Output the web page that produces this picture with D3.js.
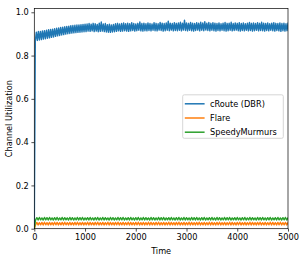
<!DOCTYPE html>
<html><head><meta charset="utf-8">
<script src="https://cdn.jsdelivr.net/npm/d3@7"></script>
<style>body{margin:0;background:#fff}svg{display:block}text{font-family:"DejaVu Sans",sans-serif;}</style>
</head><body>
<script>
const seriesNames = ["cRoute (DBR)", "Flare", "SpeedyMurmurs"];
const seriesColors = ["#1f77b4", "#ff7f0e", "#2ca02c"];
const xTicks = [0, 1000, 2000, 3000, 4000, 5000];
const yTicks = [0.0, 0.2, 0.4, 0.6, 0.8, 1.0];
const xLabel = "Time";
const yLabel = "Channel Utilization";

// cRoute sampled every 20 time units (0..5000)
const crouteStep = 20;
const crouteValues = [0,
0.868,0.908,0.870,0.911,0.872,0.912,0.874,0.914,0.876,0.915,
0.878,0.917,0.880,0.919,0.882,0.921,0.884,0.922,0.886,0.924,
0.889,0.926,0.891,0.928,0.893,0.930,0.895,0.931,0.897,0.933,
0.899,0.935,0.901,0.936,0.902,0.938,0.904,0.939,0.905,0.940,
0.906,0.941,0.907,0.942,0.908,0.943,0.909,0.944,0.910,0.945,
0.911,0.946,0.913,0.948,0.912,0.945,0.914,0.949,0.911,0.947,
0.913,0.944,0.910,0.950,0.912,0.955,0.913,0.946,0.911,0.948,
0.909,0.943,0.908,0.945,0.907,0.942,0.909,0.944,0.910,0.947,
0.912,0.949,0.914,0.946,0.912,0.948,0.913,0.951,0.915,0.947,
0.913,0.950,0.912,0.947,0.914,0.952,0.916,0.948,0.913,0.946,
0.915,0.949,0.917,0.955,0.914,0.948,0.913,0.950,0.915,0.947,
0.914,0.951,0.916,0.948,0.914,0.946,0.917,0.952,0.915,0.949,
0.914,0.947,0.918,0.953,0.916,0.950,0.913,0.948,0.915,0.951,
0.917,0.959,0.915,0.950,0.918,0.948,0.914,0.952,0.916,0.949,
0.915,0.951,0.917,0.954,0.914,0.950,0.918,0.964,0.916,0.951,
0.914,0.949,0.917,0.953,0.915,0.950,0.913,0.948,0.916,0.952,
0.918,0.950,0.914,0.954,0.917,0.951,0.915,0.957,0.918,0.950,
0.916,0.953,0.914,0.949,0.917,0.952,0.915,0.950,0.913,0.948,
0.916,0.951,0.914,0.947,0.917,0.950,0.915,0.953,0.913,0.949,
0.915,0.950,0.917,0.954,0.914,0.948,0.916,0.951,0.918,0.949,
0.915,0.952,0.913,0.948,0.916,0.951,0.914,0.947,0.917,0.950,
0.914,0.953,0.916,0.949,0.913,0.951,0.915,0.948,0.917,0.952,
0.914,0.949,0.916,0.954,0.915,0.950,0.913,0.948,0.916,0.951,
0.914,0.947,0.917,0.950,0.915,0.952,0.913,0.949,0.916,0.948,
0.914,0.951,0.912,0.948,0.915,0.950,0.913,0.947,0.915,0.949];

// Flare and SpeedyMurmurs sampled every 25 time units (0..5000)
const lowStep = 25;
const flareValues = [0,
0.018,0.029,0.017,0.028,0.018,0.029,0.017,0.030,0.018,0.028,
0.017,0.029,0.018,0.028,0.017,0.030,0.018,0.029,0.017,0.028,
0.018,0.029,0.017,0.030,0.018,0.028,0.017,0.029,0.018,0.028,
0.017,0.029,0.018,0.030,0.017,0.028,0.018,0.029,0.017,0.028,
0.018,0.030,0.017,0.029,0.018,0.028,0.017,0.029,0.018,0.030,
0.017,0.028,0.018,0.029,0.017,0.028,0.018,0.030,0.017,0.029,
0.018,0.028,0.017,0.029,0.018,0.030,0.017,0.028,0.018,0.029,
0.017,0.028,0.018,0.030,0.017,0.029,0.018,0.028,0.017,0.029,
0.018,0.030,0.017,0.028,0.018,0.029,0.017,0.028,0.018,0.030,
0.017,0.029,0.018,0.028,0.017,0.029,0.018,0.030,0.017,0.028,
0.018,0.029,0.017,0.028,0.018,0.030,0.017,0.029,0.018,0.028,
0.017,0.029,0.018,0.030,0.017,0.028,0.018,0.029,0.017,0.028,
0.018,0.030,0.017,0.029,0.018,0.028,0.017,0.029,0.018,0.030,
0.017,0.028,0.018,0.029,0.017,0.028,0.018,0.030,0.017,0.029,
0.018,0.028,0.017,0.029,0.018,0.030,0.017,0.028,0.018,0.029,
0.017,0.028,0.018,0.030,0.017,0.029,0.018,0.028,0.017,0.029,
0.018,0.030,0.017,0.028,0.018,0.029,0.017,0.028,0.018,0.030,
0.017,0.029,0.018,0.028,0.017,0.029,0.018,0.030,0.017,0.028,
0.018,0.029,0.017,0.028,0.018,0.030,0.017,0.029,0.018,0.028,
0.017,0.029,0.018,0.030,0.017,0.028,0.018,0.029,0.017,0.028];
const speedyValues = [0,
0.041,0.051,0.040,0.052,0.041,0.050,0.040,0.052,0.041,0.051,
0.040,0.052,0.041,0.050,0.040,0.051,0.041,0.052,0.040,0.050,
0.041,0.052,0.040,0.051,0.041,0.050,0.040,0.052,0.041,0.051,
0.040,0.050,0.041,0.052,0.040,0.051,0.041,0.052,0.040,0.050,
0.041,0.051,0.040,0.052,0.041,0.050,0.040,0.051,0.041,0.052,
0.040,0.050,0.041,0.052,0.040,0.051,0.041,0.050,0.040,0.052,
0.041,0.051,0.040,0.050,0.041,0.052,0.040,0.051,0.041,0.052,
0.040,0.050,0.041,0.051,0.040,0.052,0.041,0.050,0.040,0.051,
0.041,0.052,0.040,0.050,0.041,0.052,0.040,0.051,0.041,0.050,
0.040,0.052,0.041,0.051,0.040,0.050,0.041,0.052,0.040,0.051,
0.041,0.052,0.040,0.050,0.041,0.051,0.040,0.052,0.041,0.050,
0.040,0.051,0.041,0.052,0.040,0.050,0.041,0.052,0.040,0.051,
0.041,0.050,0.040,0.052,0.041,0.051,0.040,0.052,0.041,0.050,
0.040,0.051,0.041,0.052,0.040,0.050,0.041,0.051,0.040,0.052,
0.041,0.050,0.040,0.052,0.041,0.051,0.040,0.050,0.041,0.052,
0.040,0.051,0.041,0.052,0.040,0.050,0.041,0.051,0.040,0.052,
0.041,0.050,0.040,0.051,0.041,0.052,0.040,0.050,0.041,0.052,
0.040,0.051,0.041,0.050,0.040,0.052,0.041,0.051,0.040,0.052,
0.041,0.050,0.040,0.051,0.041,0.052,0.040,0.050,0.041,0.051,
0.040,0.052,0.041,0.050,0.040,0.051,0.041,0.052,0.040,0.050];

const W = 304, H = 263;
const m = {left: 34.3, right: 288, top: 8.5, bottom: 228.7};
const FS = 8.2;

const svg = d3.select("body").append("svg").attr("width", W).attr("height", H);
const x = d3.scaleLinear().domain([0, 5000]).range([m.left, m.right]);
const y = d3.scaleLinear().domain([0, 1.0175]).range([m.bottom, m.top]);

const series = [
  {name: seriesNames[0], color: seriesColors[0], pts: crouteValues.map((v, i) => [i * crouteStep, v])},
  {name: seriesNames[1], color: seriesColors[1], pts: flareValues.map((v, i) => [i * lowStep, v])},
  {name: seriesNames[2], color: seriesColors[2], pts: speedyValues.map((v, i) => [i * lowStep, v])}
];

svg.append("clipPath").attr("id", "clip").append("rect")
  .attr("x", m.left).attr("y", m.top).attr("width", m.right - m.left).attr("height", m.bottom - m.top);

const line = d3.line().x(d => x(d[0])).y(d => y(d[1]));
const g = svg.append("g").attr("clip-path", "url(#clip)");
series.forEach(s => {
  g.append("path").datum(s.pts).attr("d", line)
    .attr("fill", "none").attr("stroke", s.color).attr("stroke-width", 1.4)
    .attr("stroke-linejoin", "round").attr("stroke-linecap", "square");
});

// axes
const xAxis = svg.append("g").attr("transform", `translate(0,${m.bottom})`)
  .call(d3.axisBottom(x).tickValues(xTicks).tickFormat(d3.format("d")).tickSize(2.9).tickPadding(2.6));
const yAxis = svg.append("g").attr("transform", `translate(${m.left},0)`)
  .call(d3.axisLeft(y).tickValues(yTicks).tickFormat(d3.format(".1f")).tickSize(2.9).tickPadding(2.6));
[xAxis, yAxis].forEach(a => {
  a.select(".domain").remove();
  a.selectAll(".tick line").attr("stroke", "#000").attr("stroke-width", 0.7);
  a.selectAll(".tick text").attr("fill", "#000").style("font-size", FS + "px").style("font-family", "DejaVu Sans");
});

// spines
svg.append("rect").attr("x", m.left).attr("y", m.top)
  .attr("width", m.right - m.left).attr("height", m.bottom - m.top)
  .attr("fill", "none").attr("stroke", "#000").attr("stroke-width", 0.7);

// axis labels
svg.append("text").attr("x", (m.left + m.right) / 2).attr("y", 254)
  .attr("text-anchor", "middle").style("font-size", FS + "px").text(xLabel);
svg.append("text").attr("transform", `translate(12,${(m.top + m.bottom) / 2}) rotate(-90)`)
  .attr("text-anchor", "middle").style("font-size", FS + "px").text(yLabel);

// legend
const lg = svg.append("g");
lg.append("rect").attr("x", 182.7).attr("y", 94.8).attr("width", 100.6).attr("height", 43.5)
  .attr("rx", 1.6).attr("fill", "#fff").attr("fill-opacity", 0.8)
  .attr("stroke", "#ccc").attr("stroke-width", 0.8);
series.forEach((s, i) => {
  const cy = 103.8 + i * 14.2;
  lg.append("line").attr("x1", 184.8).attr("x2", 204.6).attr("y1", cy).attr("y2", cy)
    .attr("stroke", s.color).attr("stroke-width", 1.5);
  lg.append("text").attr("x", 210).attr("y", cy + 3).style("font-size", FS + "px").text(s.name);
});
</script>
</body></html>
